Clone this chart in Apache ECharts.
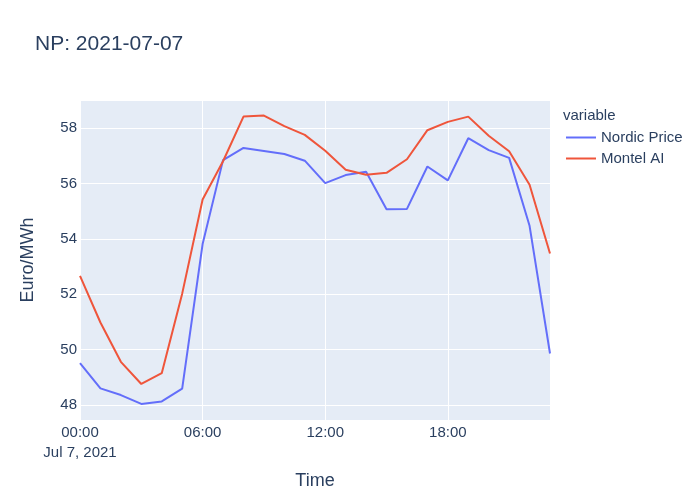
<!DOCTYPE html>
<html>
<head>
<meta charset="utf-8">
<script src="https://cdn.jsdelivr.net/npm/echarts@6/dist/echarts.min.js"></script>
<style>html,body{margin:0;padding:0;background:#fff}#c{width:700px;height:500px}</style>
</head>
<body>
<div id="c"></div>
<script>
const hours = [0,1,2,3,4,5,6,7,8,9,10,11,12,13,14,15,16,17,18,19,20,21,22,23];
const nordicPrice = [49.51,48.60,48.36,48.04,48.13,48.59,53.81,56.84,57.28,57.17,57.06,56.82,56.01,56.30,56.42,55.07,55.08,56.61,56.11,57.63,57.20,56.92,54.47,49.86];
const montelAI = [52.66,50.98,49.56,48.76,49.15,52.02,55.42,56.80,58.41,58.45,58.07,57.75,57.18,56.49,56.31,56.38,56.87,57.92,58.22,58.41,57.72,57.16,55.95,53.47];
const seriesNames = ['Nordic Price', 'Montel AI'];
const dateLabel = 'Jul 7, 2021';

const font = 'Arial, "Liberation Sans", sans-serif';
const txt = '#2a3f5f';
const chart = echarts.init(document.getElementById('c'), null, {renderer: 'canvas'});
const pairs = a => hours.map((h, i) => [h, a[i]]);
chart.setOption({
  animation: false,
  textStyle: {fontFamily: font, color: txt},
  title: [
    {text: 'NP: 2021-07-07', left: 35, top: 34, padding: 0,
     textStyle: {fontFamily: font, fontSize: 21, fontWeight: 'normal', color: txt}},
    {text: 'variable', left: 563, top: 108, padding: 0,
     textStyle: {fontFamily: font, fontSize: 15, fontWeight: 'normal', color: txt}}
  ],
  legend: {
    orient: 'vertical', left: 566, top: 130, padding: 0,
    itemWidth: 30, itemHeight: 2, itemGap: 6, icon: 'rect',
    textStyle: {fontFamily: font, fontSize: 15, color: txt, padding: [0, 0, 0, 0]},
    data: seriesNames
  },
  grid: {left: 80, right: 150, top: 100, bottom: 80, show: true, backgroundColor: '#E5ECF6', borderWidth: 0, containLabel: false},
  xAxis: {
    type: 'value', min: 0, max: 23, interval: 6,
    name: 'Time', nameLocation: 'middle', nameGap: 52,
    nameTextStyle: {fontFamily: font, fontSize: 18, color: txt},
    axisLine: {show: false}, axisTick: {show: false},
    splitLine: {show: true, lineStyle: {color: '#fff', width: 1}},
    axisLabel: {
      showMaxLabel: false, margin: 3,
      fontFamily: font, fontSize: 15, color: txt, lineHeight: 20,
      formatter: v => (v < 10 ? '0' : '') + v + ':00' + (v === 0 ? '\n' + dateLabel : '')
    }
  },
  yAxis: {
    type: 'value', min: 47.46, max: 59.01, splitNumber: 5, scale: true,
    name: 'Euro/MWh', nameLocation: 'middle', nameGap: 43,
    nameTextStyle: {fontFamily: font, fontSize: 18, color: txt},
    axisLine: {show: false}, axisTick: {show: false},
    splitLine: {show: true, lineStyle: {color: '#fff', width: 1}},
    axisLabel: {showMinLabel: false, showMaxLabel: false, margin: 3, fontFamily: font, fontSize: 15, color: txt}
  },
  series: [
    {name: seriesNames[0], type: 'line', data: pairs(nordicPrice), showSymbol: false, symbol: 'none',
     lineStyle: {width: 2, color: '#636efa'}, itemStyle: {color: '#636efa'}},
    {name: seriesNames[1], type: 'line', data: pairs(montelAI), showSymbol: false, symbol: 'none',
     lineStyle: {width: 2, color: '#EF553B'}, itemStyle: {color: '#EF553B'}}
  ]
});
</script>
</body>
</html>
